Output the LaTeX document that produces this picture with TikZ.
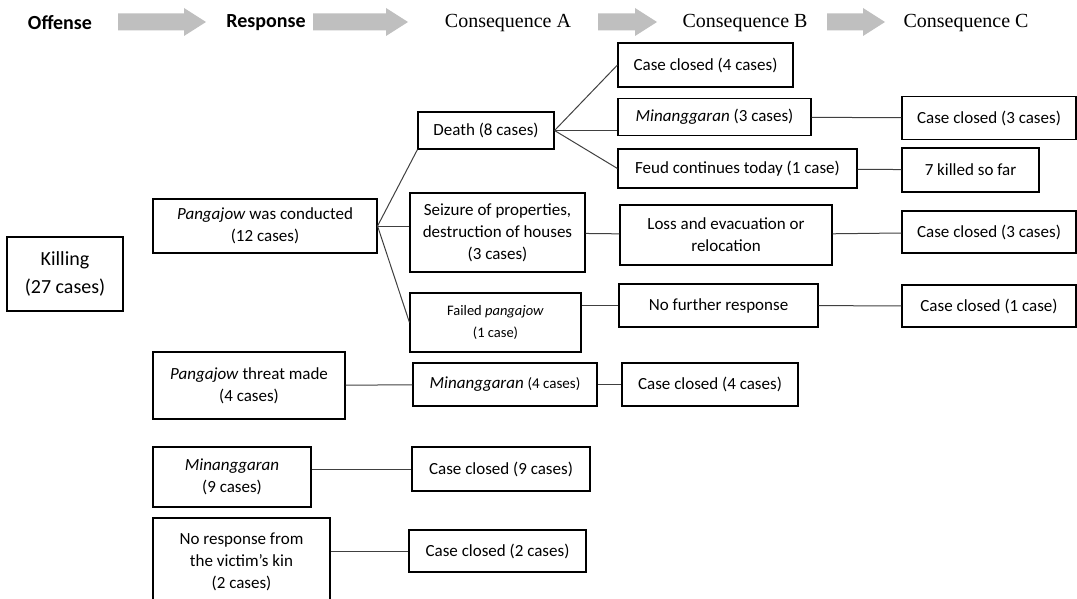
\documentclass[tikz,border=0pt]{standalone}
\usepackage{fontspec}
\setmainfont{Carlito}
\newfontfamily\timesfont{Liberation Serif}
\usetikzlibrary{positioning,calc}

\begin{document}
\begin{tikzpicture}[
    x=1pt, y=-1pt,
    box/.style={rectangle, draw=black, line width=1.1pt, fill=white, inner sep=2pt, align=center, font=\fontsize{17}{22}\selectfont},
    link/.style={draw=black!75, line width=1pt},
    title/.style={font=\fontsize{20}{24}\selectfont\bfseries, inner sep=0pt},
    stage/.style={font=\timesfont\fontsize{20}{24}\selectfont, inner sep=0pt},
    hdrarrow/.style={fill=black!25}
]
    \useasboundingbox (0,0) rectangle (1077,599);

    % header row
    \node (offense) [title] at (60,23) {Offense};
    \node (response) [title] at (266,23) {Response};
    \node (consA) [stage] at (508,23) {Consequence A};
    \node (consB) [stage] at (745,23) {Consequence B};
    \node (consC) [stage] at (966,23) {Consequence C};
    \foreach \xa/\xb in {118/206, 313/408, 598/657, 827/885}
        \fill [hdrarrow] (\xa,13.5) -- (\xb-22,13.5) -- (\xb-22,8) -- (\xb,22)
            -- (\xb-22,36) -- (\xb-22,30.5) -- (\xa,30.5) -- cycle;

    % offense and responses
    \node (kill) [box, minimum width=116, minimum height=74, font=\fontsize{20}{28}\selectfont] at (65,274) {Killing\\(27 cases)};
    \node (conduct) [box, minimum width=224, minimum height=54] at (265,226) {\textit{Pangajow} was conducted\\(12 cases)};
    \node (threat) [box, minimum width=192, minimum height=67] at (249,385.5) {\textit{Pangajow} threat made\\(4 cases)};
    \node (minresp) [box, minimum width=158, minimum height=60] at (232,477) {\textit{Minanggaran}\\(9 cases)};
    \node (noresp) [box, minimum width=177, minimum height=87] at (241.5,561.5) {No response from\\the victim’s kin\\(2 cases)};

    % consequence A
    \node (death) [box, minimum width=136, minimum height=37] at (486,130.5) {Death (8 cases)};
    \node (seize) [box, minimum width=175, minimum height=79] at (497.5,232.5) {Seizure of properties,\\destruction of houses\\(3 cases)};
    \node (failed) [box, minimum width=171, minimum height=59, font=\fontsize{14.5}{22}\selectfont] at (495.5,322.5) {Failed \textit{pangajow}\\(1 case)};
    \node (min4) [box, minimum width=184, minimum height=43] at (505,384.5) {\textit{Minanggaran} {\fontsize{15}{22}\selectfont(4 cases)}};
    \node (cc9) [box, minimum width=178, minimum height=44] at (501,469) {Case closed (9 cases)};
    \node (cc2) [box, minimum width=177, minimum height=42] at (497.5,551) {Case closed (2 cases)};

    % consequence B
    \node (cc4a) [box, minimum width=175, minimum height=44] at (705.5,65) {Case closed (4 cases)};
    \node (min3) [box, minimum width=193, minimum height=37] at (714.5,117) {\textit{Minanggaran} (3 cases)};
    \node (feud) [box, minimum width=239, minimum height=39] at (737.5,168.5) {Feud continues today (1 case)};
    \node (loss) [box, minimum width=212, minimum height=60] at (726,235) {Loss and evacuation or\\relocation};
    \node (nofurther) [box, minimum width=199, minimum height=43] at (718.5,305.5) {No further response};
    \node (cc4b) [box, minimum width=176, minimum height=43] at (710,384.5) {Case closed (4 cases)};

    % consequence C
    \node (cc3a) [box, minimum width=174, minimum height=43] at (989,118) {Case closed (3 cases)};
    \node (killed) [box, minimum width=137, minimum height=44] at (970.5,170) {7 killed so far};
    \node (cc3b) [box, minimum width=174, minimum height=42] at (989,232) {Case closed (3 cases)};
    \node (cc1) [box, minimum width=174, minimum height=42] at (989,306) {Case closed (1 case)};

    % connectors
    \draw [link] (conduct.east) -- (death.south west);
    \draw [link] (conduct.east) -- (conduct.east -| seize.west);
    \draw [link] (conduct.east) -- (failed.west);
    \draw [link] (death.east) -- (cc4a.west);
    \draw [link] (death.east) -- (death.east -| min3.west);
    \draw [link] (death.east) -- (feud.west);
    \draw [link] (min3) -- (cc3a);
    \draw [link] (feud) -- (killed);
    \draw [link] (seize) -- (loss);
    \draw [link] (loss) -- (cc3b);
    \draw [link] (failed.east |- nofurther) -- (nofurther);
    \draw [link] (nofurther) -- (cc1);
    \draw [link] (threat) -- (min4);
    \draw [link] (min4) -- (cc4b);
    \draw [link] (minresp.east |- cc9) -- (cc9);
    \draw [link] (noresp.east |- cc2) -- (cc2);
\end{tikzpicture}
\end{document}
